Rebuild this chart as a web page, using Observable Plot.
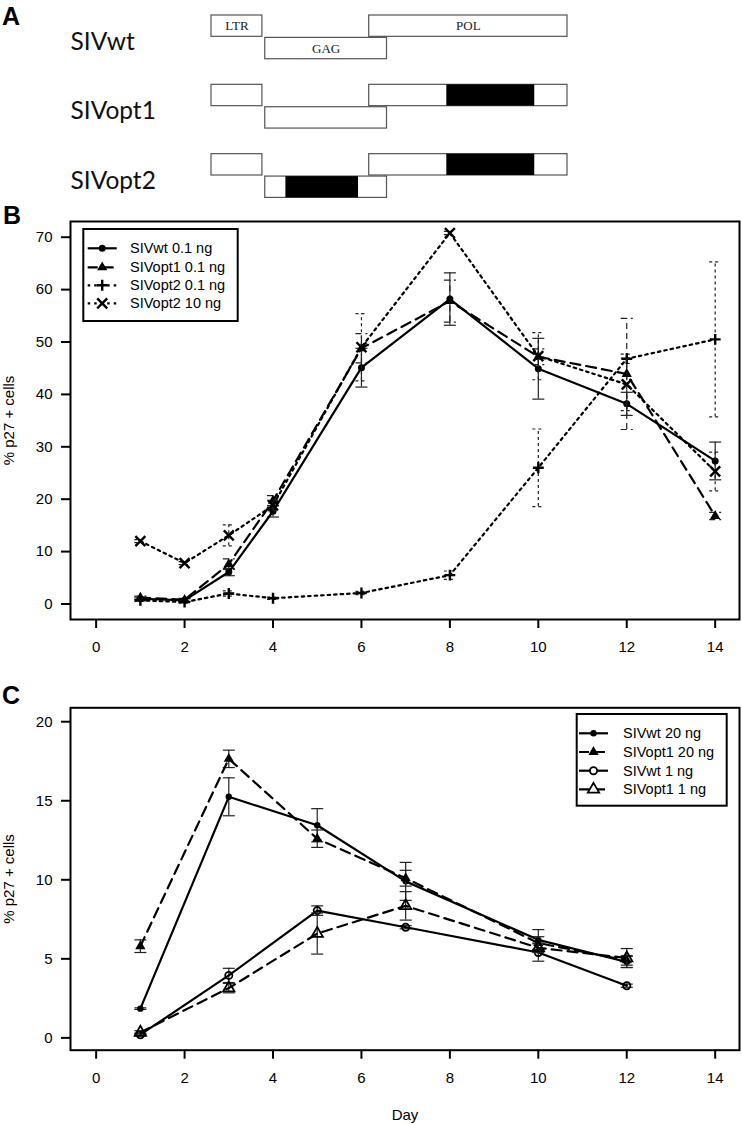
<!DOCTYPE html>
<html><head><meta charset="utf-8">
<script src="https://cdn.jsdelivr.net/npm/d3@7"></script>
<script src="https://cdn.jsdelivr.net/npm/@observablehq/plot@0.6"></script>
<style>
body{margin:0;background:#fff;}
#root{position:relative;width:742px;height:1124px;overflow:hidden;background:#fff;}
#root > svg{position:absolute;left:0;}
</style></head><body><div id="root"></div>
<script>
// ---------- Panel A data ----------
const constructs = ["SIVwt", "SIVopt1", "SIVopt2"];
const genes = ["LTR", "GAG", "POL"];
const geneStart = [0, 15.1, 44.3];
const geneEnd = [14.3, 49.3, 100];
const geneTrack = [0, 1, 0];
const optConstruct = ["SIVopt1", "SIVopt2", "SIVopt2"];
const optGene = ["POL", "POL", "GAG"];
const optStart = [66.1, 66.1, 20.9];
const optEnd = [90.8, 90.8, 41.3];

// ---------- Panel B data ----------
const daysB = [1, 2, 3, 4, 6, 8, 10, 12, 14];
const seriesB = ["SIVwt 0.1 ng", "SIVopt1 0.1 ng", "SIVopt2 0.1 ng", "SIVopt2 10 ng"];
const wtB      = [1.0, 0.7, 6.1, 17.7, 45.1, 58.2, 44.9, 38.2, 27.3];
const wtBerr   = [0.3, 0.3, 0.7, 1.1, 3.7, 5.0, 5.8, 2.2, 3.6];
const opt1B    = [1.2, 0.8, 7.6, 19.7, 48.8, 57.8, 47.2, 43.9, 16.8];
const opt1Berr = [0.3, 0.3, 1.0, 1.0, 2.8, 4.0, 1.5, 10.6, 0.7];
const opt2lB    = [0.7, 0.35, 2.0, 1.1, 2.1, 5.5, 26.0, 46.8, 50.5];
const opt2lBerr = [0.2, 0.2, 0.5, 0.2, 0.3, 0.8, 7.4, 0.9, 14.8];
const opt2hB    = [12.0, 7.8, 13.1, 18.8, 49.0, 70.8, 47.3, 41.9, 25.3];
const opt2hBerr = [0.3, 0.3, 2.0, 1.0, 6.4, 0.3, 4.5, 5.0, 3.7];

// ---------- Panel C data ----------
const daysC = [1, 3, 5, 7, 10, 12];
const seriesC = ["SIVwt 20 ng", "SIVopt1 20 ng", "SIVwt 1 ng", "SIVopt1 1 ng"];
const wt20C      = [1.85, 15.25, 13.45, 9.9, 6.2, 4.8];
const wt20Cerr   = [0.05, 1.2, 1.05, 1.2, 0.65, 0.35];
const opt20C     = [5.8, 17.65, 12.6, 10.1, 6.0, 4.9];
const opt20Cerr  = [0.4, 0.55, 0.55, 0.5, 0.4, 0.3];
const wt1C       = [0.2, 3.95, 8.05, 7.0, 5.4, 3.3];
const wt1Cerr    = [0.1, 0.45, 0.3, 0.1, 0.55, 0.1];
const opt1C      = [0.35, 3.15, 6.6, 8.35, 5.7, 5.05];
const opt1Cerr   = [0.1, 0.3, 1.3, 0.9, 0.3, 0.6];

// ---------- Axis ticks ----------
const xTicks = [0, 2, 4, 6, 8, 10, 12, 14];
const yTicksB = [0, 10, 20, 30, 40, 50, 60, 70];
const yTicksC = [0, 5, 10, 15, 20];
const yTitle = "% p27 + cells";
const xTitle = "Day";

const FONT = "'Liberation Sans', Arial, Helvetica, sans-serif";
const root = document.getElementById("root");

// ================= Panel A =================
const ROW = 3.25, TRACK = 1.05;
const geneRows = constructs.flatMap((c, ci) => genes.map((g, gi) => ({
  construct: c, gene: g, start: geneStart[gi], end: geneEnd[gi], y: ci * ROW + geneTrack[gi] * TRACK
})));
const optRows = optConstruct.map((c, i) => {
  const gi = genes.indexOf(optGene[i]);
  const ci = constructs.indexOf(c);
  return {start: optStart[i], end: optEnd[i], y: ci * ROW + geneTrack[gi] * TRACK};
});
const plotA = Plot.plot({
  width: 742, height: 207, marginLeft: 211, marginRight: 175, marginTop: 15, marginBottom: 0,
  x: {domain: [0, 100], axis: null},
  y: {domain: [0, 9], reverse: true, axis: null},
  style: {background: "transparent", overflow: "visible"},
  marks: [
    Plot.rect(geneRows, {x1: "start", x2: "end", y1: "y", y2: d => d.y + 1, fill: "white", stroke: "#555", strokeWidth: 1.2}),
    Plot.rect(optRows, {x1: "start", x2: "end", y1: "y", y2: d => d.y + 1, fill: "black"}),
    Plot.text(geneRows.filter(d => d.construct === constructs[0]), {
      x: d => (d.start + d.end) / 2, y: d => d.y + 0.5, text: "gene",
      fontFamily: "'Liberation Serif', 'Times New Roman', serif", fontSize: 13, fill: "#222"
    }),
    Plot.text(constructs, {
      y: (d, i) => i * ROW + 1.25, text: d => d, frameAnchor: "left", dx: -141, textAnchor: "start",
      fontFamily: "Lato, 'Open Sans', sans-serif", fontSize: 24.5, fill: "#111"
    })
  ]
});
plotA.style.top = "0px";
root.appendChild(plotA);

// ================= Line charts =================
const cap = {draw(ctx, size) { const r = Math.sqrt(size / Math.PI); ctx.moveTo(-r, 0); ctx.lineTo(r, 0); }};

function makeChart({top, height, mt, mb, yDomain, yTicks, series, xLabel}) {
  const marks = [];
  series.forEach(s => {
    const rows = s.days.map((d, i) => ({day: d, v: s.vals[i], lo: s.vals[i] - s.errs[i], hi: s.vals[i] + s.errs[i]}));
    const eOpt = {stroke: "#222", strokeWidth: 1.2, strokeDasharray: s.errDash};
    marks.push(Plot.ruleX(rows, {x: "day", y1: "lo", y2: "hi", ...eOpt}));
    marks.push(Plot.dot(rows, {x: "day", y: "lo", symbol: cap, r: 6, fill: "none", ...eOpt}));
    marks.push(Plot.dot(rows, {x: "day", y: "hi", symbol: cap, r: 6, fill: "none", ...eOpt}));
    marks.push(Plot.line(rows, {x: "day", y: "v", stroke: "black", strokeWidth: 2.2, strokeDasharray: s.dash}));
    marks.push(Plot.dot(rows, {x: "day", y: "v", symbol: s.sym, r: s.r, fill: s.fill, stroke: s.stroke, strokeWidth: s.sw}));
  });
  marks.push(Plot.frame({stroke: "black", strokeWidth: 2}));
  marks.push(Plot.axisX({ticks: xTicks, tickSize: 9, tickPadding: 13, strokeWidth: 2, fontSize: 15,
    label: xLabel, labelAnchor: "center", labelOffset: 70, labelArrow: "none"}));
  marks.push(Plot.axisY({ticks: yTicks, tickSize: 9, tickPadding: 9, strokeWidth: 2, fontSize: 15,
    label: yTitle, labelAnchor: "center", labelOffset: 67, labelArrow: "none"}));
  const p = Plot.plot({
    width: 742, height, marginLeft: 70, marginRight: 3, marginTop: mt, marginBottom: mb,
    x: {domain: [-0.58, 14.55]},
    y: {domain: yDomain},
    style: {background: "transparent", overflow: "visible", fontFamily: FONT, fontSize: "15px", color: "black"},
    marks
  });
  p.style.top = top + "px";
  root.appendChild(p);
}

const stylesB = [
  {dash: undefined, errDash: undefined, sym: "circle", r: 3.5, fill: "black", stroke: "none", sw: 0},
  {dash: "10,6", errDash: "6,4", sym: "triangle", r: 3.8, fill: "black", stroke: "none", sw: 0},
  {dash: "2.5,4", errDash: "3,3", sym: "plus", r: 3.6, fill: "none", stroke: "black", sw: 2.4},
  {dash: "2.5,4", errDash: "3,3", sym: "times", r: 4.6, fill: "none", stroke: "black", sw: 2.4}
];
const valsB = [[wtB, wtBerr], [opt1B, opt1Berr], [opt2lB, opt2lBerr], [opt2hB, opt2hBerr]];
makeChart({
  top: 200, height: 480, mt: 21, mb: 61, yDomain: [-2.96, 73.0], yTicks: yTicksB, xLabel: null,
  series: valsB.map(([v, e], i) => ({days: daysB, vals: v, errs: e, ...stylesB[i]}))
});

const stylesC = [
  {dash: undefined, errDash: undefined, sym: "circle", r: 3.2, fill: "black", stroke: "none", sw: 0},
  {dash: "10,6", errDash: undefined, sym: "triangle", r: 3.8, fill: "black", stroke: "none", sw: 0},
  {dash: undefined, errDash: undefined, sym: "circle", r: 3.6, fill: "none", stroke: "black", sw: 1.8},
  {dash: "10,6", errDash: undefined, sym: "triangle", r: 4.2, fill: "none", stroke: "black", sw: 1.8}
];
const valsC = [[wt20C, wt20Cerr], [opt20C, opt20Cerr], [wt1C, wt1Cerr], [opt1C, opt1Cerr]];
makeChart({
  top: 690, height: 434, mt: 17.3, mb: 74.3, yDomain: [-0.78, 20.88], yTicks: yTicksC, xLabel: xTitle,
  series: valsC.map(([v, e], i) => ({days: daysC, vals: v, errs: e, ...stylesC[i]}))
});

// ================= Overlay: panel letters & legends =================
const ov = d3.select(root).append("svg").attr("width", 742).attr("height", 1124)
  .style("top", "0px").style("pointer-events", "none").style("font-family", FONT);
[["A", 2, 25], ["B", 3, 224], ["C", 2, 704]].forEach(([t, x, y]) =>
  ov.append("text").attr("x", x).attr("y", y).attr("font-size", 25).attr("font-weight", "bold").text(t));

const symMap = {circle: d3.symbolCircle, triangle: d3.symbolTriangle, plus: d3.symbolPlus, times: d3.symbolTimes};
function legend(labels, styles, box, rows, lineX0, lineX1, textX) {
  const g = ov.append("g");
  g.append("rect").attr("x", box[0]).attr("y", box[1]).attr("width", box[2] - box[0]).attr("height", box[3] - box[1])
    .attr("fill", "white").attr("stroke", "black").attr("stroke-width", 2);
  labels.forEach((lab, i) => {
    const s = styles[i], y = rows[i], sx = (lineX0 + lineX1) / 2;
    g.append("line").attr("x1", lineX0).attr("x2", lineX1).attr("y1", y).attr("y2", y)
      .attr("stroke", "black").attr("stroke-width", 2.2).attr("stroke-dasharray", s.dash || null);
    g.append("path").attr("transform", `translate(${sx},${y})`)
      .attr("d", d3.symbol().type(symMap[s.sym]).size(Math.PI * s.r * s.r)())
      .attr("fill", s.fill).attr("stroke", s.stroke).attr("stroke-width", s.sw);
    g.append("text").attr("x", textX).attr("y", y).attr("dy", "0.35em").attr("font-size", 14.5).text(lab);
  });
}
legend(seriesB, stylesB, [83.3, 229, 237.7, 321], [248.3, 267.3, 285.3, 303.3], 87.7, 116.7, 130);
legend(seriesC, stylesC.map(s => s.fill === "none" ? {...s, fill: "white"} : s), [576.7, 714, 726.7, 805.7], [733.3, 752, 770.7, 789.4], 579, 608, 623);
</script></body></html>
